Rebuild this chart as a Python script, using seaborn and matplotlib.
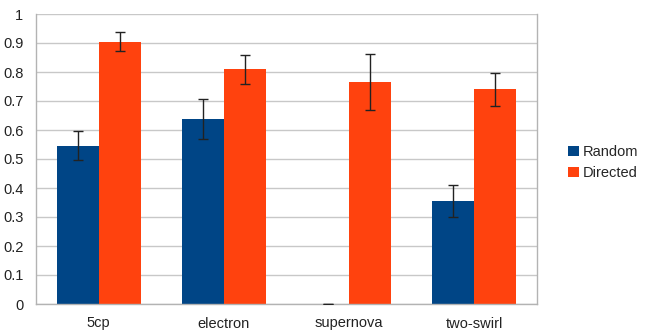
import matplotlib
matplotlib.use("Agg")
import matplotlib.pyplot as plt
import seaborn as sns
import pandas as pd
import numpy as np
from matplotlib.ticker import FixedLocator

categories = ["5cp", "electron", "supernova", "two-swirl"]
series = ["Random", "Directed"]
random_vals = [0.546, 0.638, 0.0, 0.356]
random_err = [0.051, 0.070, 0.0, 0.056]
directed_vals = [0.905, 0.810, 0.765, 0.740]
directed_err = [0.032, 0.050, 0.097, 0.057]
colors = ["#004586", "#ff420e"]

df = pd.DataFrame({
    "category": categories * 2,
    "series": ["Random"] * 4 + ["Directed"] * 4,
    "value": random_vals + directed_vals,
    "err": random_err + directed_err,
})

sns.set_style("white")
plt.rcParams["font.family"] = ["Liberation Sans", "DejaVu Sans"]

fig = plt.figure(figsize=(6.51, 3.30), dpi=100)
ax = fig.add_axes([36 / 651, 1 - 304 / 330, (537 - 36) / 651, (304 - 14) / 330])

sns.barplot(data=df, x="category", y="value", hue="series", order=categories,
            hue_order=series, palette=colors, width=0.67, gap=0,
            errorbar=None, ax=ax, saturation=1, linewidth=0, legend=True)

# error bars from bar positions
for container, s in zip(ax.containers, series):
    sub = df[df["series"] == s].set_index("category").loc[categories]
    xs = [p.get_x() + p.get_width() / 2 for p in container.patches]
    ax.errorbar(xs, sub["value"].values, yerr=sub["err"].values, fmt="none",
                ecolor="#222222", elinewidth=1, capsize=3.5, capthick=1, zorder=5)

ax.set_ylim(0, 1)
ax.set_xlim(-0.5, 3.5)
ax.set_yticks(np.arange(0, 1.01, 0.1))
ax.set_yticklabels(["0"] + [f"{v:.1f}" for v in np.arange(0.1, 0.95, 0.1)] + ["1"])
ax.yaxis.grid(True, color="#c8c8c8", linewidth=1)
ax.set_axisbelow(True)
ax.set_xlabel("")
ax.set_ylabel("")

ax.xaxis.set_minor_locator(FixedLocator([-0.5, 0.5, 1.5, 2.5, 3.5]))
ax.tick_params(axis="x", which="major", length=0, labelsize=10.5, pad=9, colors="#222222")
ax.tick_params(axis="x", which="minor", length=6, width=1, color="#b3b3b3", direction="out")
ax.tick_params(axis="y", which="major", length=5, width=1, color="#b3b3b3",
               direction="out", labelsize=10.5, pad=4, colors="#222222")
ax.tick_params(axis="y", which="major", color="#b3b3b3")

for sp in ["top"]:
    ax.spines[sp].set_visible(False)
for sp in ["left", "right", "bottom"]:
    ax.spines[sp].set_color("#b3b3b3")
    ax.spines[sp].set_linewidth(1)

handles, labels = ax.get_legend_handles_labels()
ax.legend(handles, labels, loc="center left", bbox_to_anchor=(1.051, 0.488),
          frameon=False, fontsize=10.5, handlelength=0.7, handleheight=0.7,
          handletextpad=0.3, labelspacing=0.45, borderaxespad=0)

fig.savefig("out.png", dpi=100)
